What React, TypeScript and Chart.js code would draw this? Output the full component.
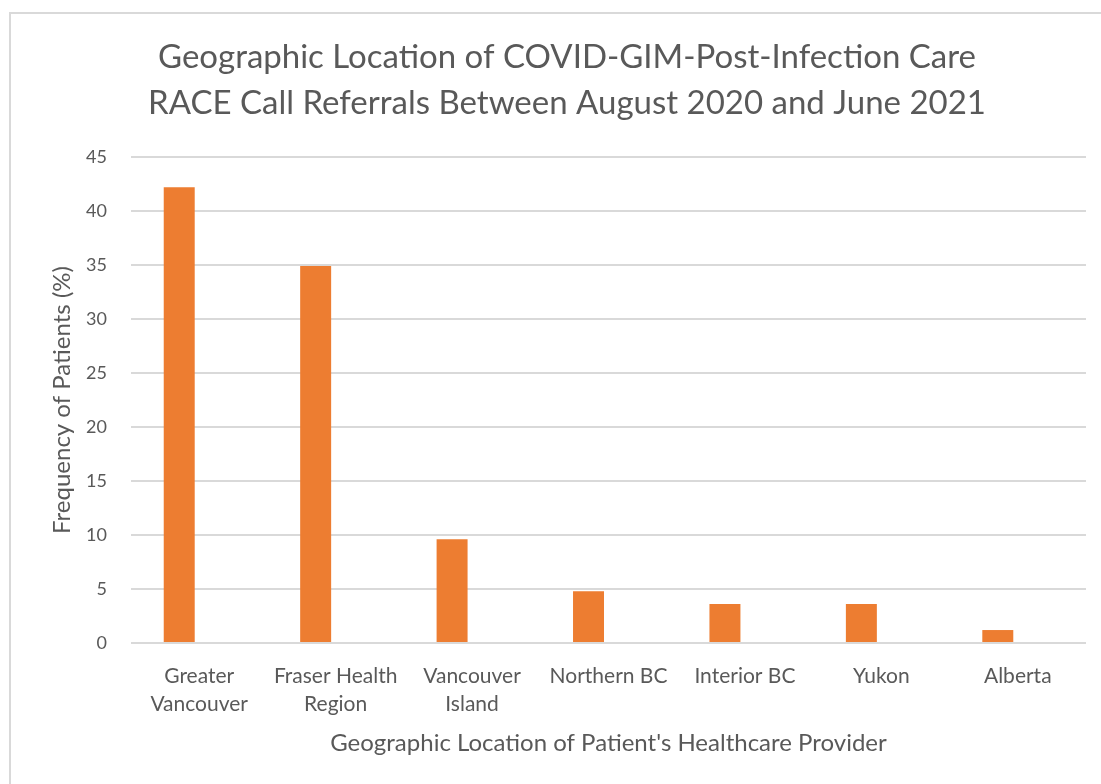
import React, { useEffect, useRef } from "react";
import { Chart, registerables } from "chart.js";

Chart.register(...registerables);

const TITLE_LINES = [
  "Geographic Location of COVID-GIM-Post-Infection Care",
  "RACE Call Referrals Between August 2020 and June 2021",
];
const CATEGORIES: (string | string[])[] = [
  ["Greater", "Vancouver"],
  ["Fraser Health", "Region"],
  ["Vancouver", "Island"],
  "Northern BC",
  "Interior BC",
  "Yukon",
  "Alberta",
];
const FREQUENCY = [42.2, 34.9, 9.6, 4.8, 3.6, 3.6, 1.2];
const EMPTY_SERIES = [null, null, null, null, null, null, null];
const Y_MIN = 0;
const Y_MAX = 45;
const Y_STEP = 5;
const X_TITLE = "Geographic Location of Patient's Healthcare Provider";
const Y_TITLE = "Frequency of Patients (%)";

const FONT = "Lato, 'Open Sans', sans-serif";
const TEXT = "#595959";
const GRID = "#d9d9d9";

const frame = {
  id: "frame",
  beforeDraw(chart: any) {
    const { ctx, width, height } = chart;
    ctx.save();
    ctx.fillStyle = "#ffffff";
    ctx.fillRect(0, 0, width, height);
    ctx.strokeStyle = GRID;
    ctx.lineWidth = 2;
    ctx.strokeRect(10, 13, width + 20, height + 20);
    ctx.restore();
  },
};

export default function App() {
  const ref = useRef<HTMLCanvasElement>(null);
  useEffect(() => {
    if (!ref.current) return;
    const chart = new Chart(ref.current, {
      type: "bar",
      data: {
        labels: CATEGORIES,
        datasets: [
          {
            label: "Frequency",
            data: FREQUENCY,
            backgroundColor: "#ED7D31",
            borderWidth: 0,
            categoryPercentage: 0.586,
            barPercentage: 0.775,
          },
          {
            label: "",
            data: EMPTY_SERIES as any,
            backgroundColor: "#ED7D31",
            borderWidth: 0,
            categoryPercentage: 0.586,
            barPercentage: 0.775,
          },
        ],
      },
      options: {
        responsive: false,
        animation: false,
        layout: { padding: { left: 48, right: 15, top: 0, bottom: 0 } },
        plugins: {
          legend: { display: false },
          tooltip: { enabled: false },
          title: {
            display: true,
            text: TITLE_LINES,
            color: TEXT,
            font: { family: FONT, size: 33, weight: "normal", lineHeight: 1.394 },
            padding: { top: 34, bottom: 31 },
          },
        },
        scales: {
          x: {
            grid: { display: false, drawTicks: false },
            border: { display: false },
            ticks: {
              color: TEXT,
              font: { family: FONT, size: 21, lineHeight: 1.333 },
              padding: 19,
              maxRotation: 0,
              autoSkip: false,
            },
            title: {
              display: true,
              text: X_TITLE,
              color: TEXT,
              font: { family: FONT, size: 24, lineHeight: 1.2 },
              padding: { top: 0, bottom: 26.6 },
            },
            afterFit(scale: any) {
              scale.height = 141;
            },
          },
          y: {
            min: Y_MIN,
            max: Y_MAX,
            grid: { color: GRID, lineWidth: 2, drawTicks: false },
            border: { display: false },
            ticks: {
              stepSize: Y_STEP,
              color: TEXT,
              font: { family: FONT, size: 18 },
              padding: 24,
            },
            title: {
              display: true,
              text: Y_TITLE,
              color: TEXT,
              font: { family: FONT, size: 24, lineHeight: 1.2 },
              padding: 0,
            },
            afterFit(scale: any) {
              scale.width = 83;
            },
          },
        },
      },
      plugins: [frame],
    });
    return () => chart.destroy();
  }, []);
  return (
    <div style={{ position: "absolute", left: 0, top: 0, width: 1101, height: 784 }}>
      <canvas ref={ref} width={1101} height={784} />
    </div>
  );
}
